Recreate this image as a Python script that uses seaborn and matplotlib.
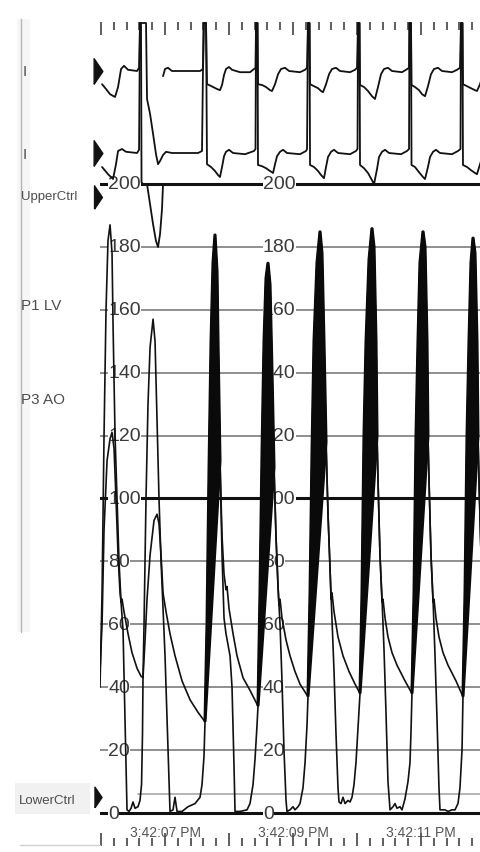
import numpy as np
import pandas as pd
import matplotlib
matplotlib.use("Agg")
import matplotlib.pyplot as plt
import seaborn as sns
from matplotlib.patches import Rectangle
from matplotlib.lines import Line2D

# ---------------------------------------------------------------------------
# Recorded signals (time in seconds after 3:42:06 PM)
# ---------------------------------------------------------------------------
# Aortic pressure, P3 AO (mmHg)
AO_T = [-0.016, 0.016, 0.047, 0.094, 0.141, 0.172, 0.203, 0.234, 0.266, 0.297, 0.313, 0.328, 0.359, 0.422, 0.484, 0.563, 0.625, 0.656,
        0.688, 0.719, 0.766, 0.828, 0.875, 0.906, 0.938, 0.969, 0.984, 1.016, 1.078, 1.156, 1.266, 1.391, 1.516, 1.625,
        1.656, 1.688, 1.719, 1.75, 1.781, 1.813, 1.828, 1.859, 1.891, 1.922, 1.953, 1.969, 2.0, 2.063, 2.125, 2.219, 2.328, 2.453,
        2.484, 2.516, 2.547, 2.578, 2.609, 2.641, 2.672, 2.703, 2.734, 2.766, 2.781, 2.797, 2.828, 2.891, 2.953, 3.031, 3.109, 3.234,
        3.266, 3.297, 3.328, 3.375, 3.422, 3.453, 3.484, 3.516, 3.547, 3.578, 3.594, 3.609, 3.641, 3.703, 3.781, 3.875, 3.969, 4.047,
        4.078, 4.109, 4.141, 4.188, 4.234, 4.266, 4.297, 4.313, 4.328, 4.359, 4.391, 4.406, 4.438, 4.484, 4.547, 4.625, 4.75, 4.859,
        4.891, 4.922, 4.953, 4.984, 5.031, 5.063, 5.094, 5.109, 5.125, 5.156, 5.188, 5.203, 5.234, 5.281, 5.344, 5.422, 5.547, 5.656,
        5.688, 5.719, 5.75, 5.781, 5.813, 5.844, 5.875, 5.891, 5.906, 5.938, 5.969]
AO_P = [45, 60, 90, 112, 119, 121, 116, 100, 82, 70, 67, 68, 64, 57, 51, 46, 43.5, 43,
        55, 68, 82, 93, 95, 92, 82, 70, 68, 64, 57, 50, 42, 36, 32, 29,
        60, 110, 150, 175, 184, 172, 150, 112, 88, 76, 71, 72, 65, 57, 50, 43, 39, 34,
        70, 115, 150, 170, 175, 168, 140, 110, 88, 72, 66, 68, 62, 55, 50, 45, 41, 37,
        70, 115, 150, 175, 185, 178, 150, 118, 95, 78, 68, 70, 64, 56, 50, 45, 41, 38,
        70, 120, 150, 176, 186, 180, 150, 120, 106, 82, 67, 68, 62, 56, 51, 47, 42, 38,
        70, 120, 150, 175, 185, 180, 150, 120, 106, 82, 67, 68, 62, 56, 51, 47, 42, 37,
        70, 120, 150, 175, 183, 178, 150, 120, 106, 82, 67]

# Left-ventricular pressure, P1 LV (mmHg)
LV_T = [-0.016, 0.016, 0.047, 0.078, 0.109, 0.141, 0.172, 0.188, 0.219, 0.25, 0.281, 0.313, 0.344, 0.375, 0.406, 0.438, 0.469, 0.5, 0.531, 0.578, 0.609, 0.633, 0.648, 0.656,
        0.672, 0.703, 0.734, 0.766, 0.813, 0.844, 0.875, 0.906, 0.938, 0.969, 1.0, 1.031, 1.078, 1.125, 1.156, 1.188, 1.266, 1.359, 1.469, 1.547, 1.578, 1.609, 1.625,
        1.656, 1.688, 1.719, 1.75, 1.781, 1.813, 1.828, 1.859, 1.891, 1.922, 1.953, 2.016, 2.047, 2.078, 2.094, 2.172, 2.281, 2.328, 2.375, 2.406, 2.438, 2.453,
        2.484, 2.516, 2.547, 2.578, 2.609, 2.641, 2.672, 2.703, 2.734, 2.766, 2.797, 2.828, 2.859, 2.891, 2.906, 2.953, 3.0, 3.031, 3.078, 3.109, 3.156, 3.188, 3.219, 3.234,
        3.266, 3.297, 3.328, 3.375, 3.422, 3.453, 3.484, 3.516, 3.547, 3.578, 3.609, 3.641, 3.672, 3.703, 3.719, 3.75, 3.781, 3.813, 3.859, 3.891, 3.922, 3.953, 3.984, 4.016, 4.047,
        4.078, 4.109, 4.141, 4.188, 4.234, 4.266, 4.297, 4.313, 4.328, 4.359, 4.391, 4.422, 4.453, 4.484, 4.516, 4.563, 4.594, 4.625, 4.672, 4.703, 4.75, 4.797, 4.828, 4.844, 4.859,
        4.891, 4.922, 4.953, 4.984, 5.031, 5.063, 5.094, 5.109, 5.125, 5.156, 5.188, 5.219, 5.25, 5.281, 5.297, 5.375, 5.422, 5.484, 5.531, 5.578, 5.609, 5.641, 5.656,
        5.688, 5.719, 5.75, 5.781, 5.813, 5.844, 5.875, 5.891, 5.906, 5.938, 5.969]
LV_P = [40, 70, 120, 160, 182, 187, 178, 155, 120, 100, 80, 67, 58, 30, 1, 0.5, 1.5, 3.5, 1.5, 2, 4, 9, 25, 43,
        60, 100, 130, 148, 157, 150, 125, 100, 80, 65, 50, 30, 0.5, 1, 5, 0.5, 0.5, 2, 3, 5, 9, 18, 29,
        60, 110, 150, 175, 184, 172, 150, 112, 82, 62, 57, 50, 40, 15, 0.5, 0.5, 1, 3, 9, 17, 28, 34,
        70, 115, 150, 170, 175, 168, 140, 110, 88, 72, 60, 42, 20, 4, 0.5, 1, 2, 1, 2, 3, 8, 16, 28, 37,
        70, 115, 150, 175, 185, 178, 150, 118, 95, 78, 62, 45, 25, 8, 3.5, 3, 5, 3, 4, 3.5, 5, 9, 16, 27, 38,
        70, 120, 150, 176, 186, 180, 150, 120, 106, 82, 68, 52, 32, 10, 1, 2, 3, 1.5, 2, 1, 4.5, 10, 16, 26, 38,
        70, 120, 150, 175, 185, 180, 150, 120, 106, 82, 68, 50, 30, 8, 1, 1, 0.5, 1, 1, 3, 8, 20, 37,
        70, 120, 150, 175, 183, 178, 150, 120, 106, 82, 68]

# Ejection phases where the LV catheter signal saturates to a solid band
SYSTOLE_START = [1.62, 2.45, 3.23, 4.045, 4.855, 5.65]
SYSTOLE_END = [1.86, 2.705, 3.52, 4.315, 5.11, 5.895]

# ECG leads (mV about each lead's isoelectric line); NaN = pen lift
nan = np.nan
ECG_I_T = [0.016, 0.078, 0.141, 0.219, 0.266, 0.313, 0.359, 0.422, 0.563, 0.594, 0.609, 0.625, 0.633, 0.656, 0.719, 0.766, 0.813, 0.859, 0.891, 0.922, 0.953, 0.969, 1.016, nan,
           0.969, 1.0, 1.047, 1.109, 1.547, 1.594, 1.609, 1.641, 1.656,
           1.688, 1.75, 1.813, 1.859, 1.891, 1.922, 1.953, 2.0, 2.047, 2.172, 2.328, 2.391,
           2.414, 2.422, 2.445, 2.453, 2.516, 2.578, 2.641, 2.672, 2.719, 2.766, 2.813, 2.875, 2.938, 3.109, 3.188, 3.219,
           3.234, 3.258, 3.266, 3.328, 3.391, 3.438, 3.469, 3.516, 3.563, 3.609, 3.672, 3.734, 3.891, 3.969, 4.0,
           4.016, 4.039, 4.047, 4.109, 4.172, 4.234, 4.281, 4.328, 4.375, 4.422, 4.484, 4.547, 4.703, 4.766, 4.813,
           4.82, 4.844, 4.852, 4.906, 4.969, 5.016, 5.063, 5.109, 5.156, 5.203, 5.266, 5.328, 5.484, 5.563, 5.609,
           5.625, 5.648, 5.656, 5.719, 5.781, 5.844, 5.875, 5.922, 5.969]
ECG_I_V = [-0.33, -0.45, -0.58, -0.65, -0.40, 0.05, 0.13, 0.03, 0.0, 0.08, 1.2, 1.2, -2.78, -2.83, -2.83, -3.33, -3.83, -4.25, -4.40, -4.08, -3.45, -2.83, -2.83, nan,
           -0.13, 0.05, 0.08, 0.0, 0.0, 0.05, 1.2, 1.2, -0.33,
           -0.35, -0.40, -0.45, -0.48, -0.35, -0.10, 0.05, 0.10, 0.03, -0.03, -0.03, 0.05,
           0.08, 1.2, 1.2, -0.33, -0.35, -0.40, -0.48, -0.50, -0.33, -0.08, 0.05, 0.08, 0.0, -0.03, 0.03, 0.08,
           1.2, 1.2, -0.33, -0.38, -0.43, -0.50, -0.53, -0.33, -0.08, 0.05, 0.08, 0.0, -0.03, 0.03, 0.08,
           1.2, 1.2, -0.35, -0.40, -0.50, -0.63, -0.70, -0.40, -0.08, 0.05, 0.08, 0.0, -0.03, 0.03, 0.08,
           1.2, 1.2, -0.35, -0.40, -0.48, -0.58, -0.63, -0.38, -0.08, 0.05, 0.08, 0.0, -0.03, 0.03, 0.08,
           1.2, 1.2, -0.33, -0.38, -0.43, -0.48, -0.50, -0.33, -0.08]
ECG_II_T = [0.016, 0.109, 0.188, 0.234, 0.266, 0.328, 0.391, 0.563, 0.594, 0.609, 0.703, 0.719, 0.766, 0.813, 0.859, 0.891, 0.922, 0.969, 1.016, 1.109, 1.516, 1.578, 1.602, 1.641, 1.656,
            1.719, 1.781, 1.828, 1.859, 1.891, 1.922, 1.953, 2.0, 2.063, 2.25, 2.391,
            2.414, 2.422, 2.445, 2.453, 2.516, 2.578, 2.641, 2.688, 2.719, 2.75, 2.797, 2.844, 2.906, 3.109, 3.203, 3.219,
            3.234, 3.258, 3.266, 3.328, 3.391, 3.438, 3.484, 3.516, 3.547, 3.594, 3.641, 3.703, 3.891, 3.984, 4.008,
            4.016, 4.039, 4.047, 4.109, 4.172, 4.234, 4.266, 4.313, 4.344, 4.391, 4.438, 4.5, 4.688, 4.781, 4.813,
            4.82, 4.844, 4.852, 4.906, 4.969, 5.031, 5.063, 5.109, 5.141, 5.188, 5.234, 5.297, 5.484, 5.578, 5.617,
            5.625, 5.648, 5.656, 5.719, 5.781, 5.844, 5.875, 5.922, 5.969]
ECG_II_V = [-0.35, -0.53, -0.65, -0.28, 0.05, 0.10, 0.03, 0.0, 0.08, 3.25, 3.25, 1.35, 0.98, 0.48, -0.03, -0.28, -0.20, -0.05, 0.03, 0.0, 0.0, 0.05, 3.25, 3.25, -0.28,
            -0.35, -0.45, -0.55, -0.60, -0.35, -0.08, 0.03, 0.08, 0.0, -0.03, 0.05,
            0.10, 3.25, 3.25, -0.30, -0.33, -0.38, -0.45, -0.50, -0.28, -0.08, 0.03, 0.08, 0.0, -0.03, 0.05, 0.10,
            3.25, 3.25, -0.30, -0.35, -0.45, -0.55, -0.63, -0.35, -0.10, 0.03, 0.08, 0.0, -0.03, 0.05, 0.10,
            3.25, 3.25, -0.30, -0.38, -0.50, -0.68, -0.78, -0.40, -0.10, 0.03, 0.08, 0.0, -0.03, 0.05, 0.10,
            3.25, 3.25, -0.30, -0.35, -0.48, -0.60, -0.65, -0.35, -0.10, 0.03, 0.08, 0.0, -0.03, 0.05, 0.10,
            3.25, 3.25, -0.30, -0.35, -0.43, -0.50, -0.53, -0.28, -0.05]

# Scale and annotations
SCALE_MAJOR = [200, 100, 0]
SCALE_MINOR = [180, 160, 140, 120, 80, 60, 40, 20]
SCALE_LABELS = [200, 180, 160, 140, 120, 100, 80, 60, 40, 20, 0]
LOWER_CTRL_LEVEL = 6
UPPER_CTRL_MARK, LOWER_CTRL_MARK = 196, 5
TIME_LABEL_T = [1, 3, 5]
TIME_LABELS = ["3:42:07 PM", "3:42:09 PM", "3:42:11 PM"]
CHANNEL_NAMES = ["I", "I", "UpperCtrl", "P1 LV", "P3 AO", "LowerCtrl"]

# ---------------------------------------------------------------------------
# Layout
# ---------------------------------------------------------------------------
W, H = 480, 853
sns.set_theme(style="white")
plt.rcParams["font.family"] = ["Liberation Sans", "DejaVu Sans"]

fig = plt.figure(figsize=(W / 100, H / 100), dpi=100)
fig.patch.set_facecolor("white")


def fx(px):
    return px / W


def fy(py):
    return 1 - py / H


rect = [fx(100), fy(847), (480 - 100) / W, (847 - 23) / H]
T_LIM = (-0.016, 5.922)
ax = fig.add_axes(rect)
ax.set_xlim(*T_LIM)
ax.set_ylim(-10.49, 251.5)
for s in ax.spines.values():
    s.set_visible(False)
ax.set_facecolor("none")

# time ticks along top and bottom edges
ax.set_xticks(np.arange(0, 6, 1.0))
ax.set_xticks([v for v in np.round(np.arange(0, 6, 0.2), 1) if v % 1], minor=True)
ax.set_yticks([])
ax.tick_params(axis="x", which="both", direction="in", top=True, bottom=True,
               labelbottom=False, labeltop=False, color="#333333", width=1.1)
ax.tick_params(axis="x", which="major", length=9.5)
ax.tick_params(axis="x", which="minor", length=6)

# pressure scale lines
for lvl in SCALE_MINOR:
    ax.axhline(lvl, color="#8f8f8f", lw=1.4, zorder=1)
ax.axhline(LOWER_CTRL_LEVEL, xmin=0.1, color="#a8a8a8", lw=1.2, zorder=1)
for lvl in SCALE_MAJOR:
    ax.axhline(lvl, color="#111111", lw=2.2, zorder=1.2)

num_style = dict(fontsize=14, color="#3a3a3a", va="center", ha="left", zorder=2,
                 bbox=dict(facecolor="white", edgecolor="none", pad=0.05))
for col_t in (0.11, 2.53):
    for lvl in SCALE_LABELS:
        ax.text(col_t, lvl, str(lvl), **num_style)

for t, lab in zip(TIME_LABEL_T, TIME_LABELS):
    ax.text(t, -6.0, lab, ha="center", va="center", fontsize=10, color="#555555", zorder=2)

# pressure traces
pressure = pd.concat([
    pd.DataFrame({"t": AO_T, "mmHg": AO_P, "trace": "P3 AO"}),
    pd.DataFrame({"t": LV_T, "mmHg": LV_P, "trace": "P1 LV"}),
])
sns.lineplot(data=pressure, x="t", y="mmHg", units="trace", estimator=None, sort=False,
             color="#111111", lw=1.2, legend=False, ax=ax, zorder=3)

lv_t = np.array(LV_T)
lv_p = np.array(LV_P)
for t0, t1 in zip(SYSTOLE_START, SYSTOLE_END):
    m = (lv_t >= t0) & (lv_t <= t1)
    ax.fill(lv_t[m], lv_p[m], facecolor="#0a0a0a", edgecolor="#0a0a0a", lw=2.2, zorder=3.5)

ax.set_xlabel("")
ax.set_ylabel("")

tri = [(-0.17, -0.5), (-0.17, 0.5), (0.17, 0.0), (-0.17, -0.5)]
ax.scatter([-0.055], [UPPER_CTRL_MARK], marker=tri, s=280, c="#111111", clip_on=False, zorder=5)
ax.scatter([-0.055], [LOWER_CTRL_MARK], marker=tri, s=220, c="#111111", clip_on=False, zorder=5)

# ECG strip on an overlaid axes
ax_ecg = fig.add_axes(rect)
ax_ecg.set_xlim(*T_LIM)
ax_ecg.set_ylim(-19.375, 1.225)
ax_ecg.axis("off")
ax_ecg.patch.set_visible(False)

LEAD_OFFSET = {"I": 0.0, "II": -2.05}
frames = []
for lead, tt, vv in (("I", ECG_I_T, ECG_I_V), ("II", ECG_II_T, ECG_II_V)):
    d = pd.DataFrame({"t": tt, "mV": vv})
    d["seg"] = lead + d["t"].isna().cumsum().astype(str)
    d = d.dropna()
    d["y"] = d["mV"] + LEAD_OFFSET[lead]
    frames.append(d)
ecg = pd.concat(frames)
sns.lineplot(data=ecg, x="t", y="y", units="seg", estimator=None, sort=False,
             color="#111111", lw=1.3, legend=False, ax=ax_ecg, zorder=3)
ax_ecg.scatter([-0.055, -0.055], [LEAD_OFFSET["I"], LEAD_OFFSET["II"]], marker=tri, s=340,
               c="#111111", clip_on=False, zorder=5)

# channel name column
fig.add_artist(Rectangle((fx(17), fy(633)), fx(30) - fx(17), fy(20) - fy(633),
                         facecolor="#f6f6f6", edgecolor="none", zorder=0))
fig.add_artist(Rectangle((fx(15), fy(815)), fx(90) - fx(15), fy(784) - fy(815),
                         facecolor="#f1f1f1", edgecolor="none", zorder=0))
fig.add_artist(Line2D([fx(21), fx(21)], [fy(20), fy(633)], color="#b5b5b5", lw=1.0))
fig.add_artist(Line2D([fx(20), fx(100)], [fy(846), fy(846)], color="#cfcfcf", lw=1.0))

name_y = [72, 155, 197, 306, 400, 801]
name_x = [23, 23, 21, 21, 21, 19]
name_size = [11, 11, 9.5, 11, 11, 9.5]
for name, px, py, fs in zip(CHANNEL_NAMES, name_x, name_y, name_size):
    fig.text(fx(px), fy(py), name, ha="left", va="center", fontsize=fs, color="#4d4d4d")

fig.savefig("out.png", dpi=100, facecolor="white")
